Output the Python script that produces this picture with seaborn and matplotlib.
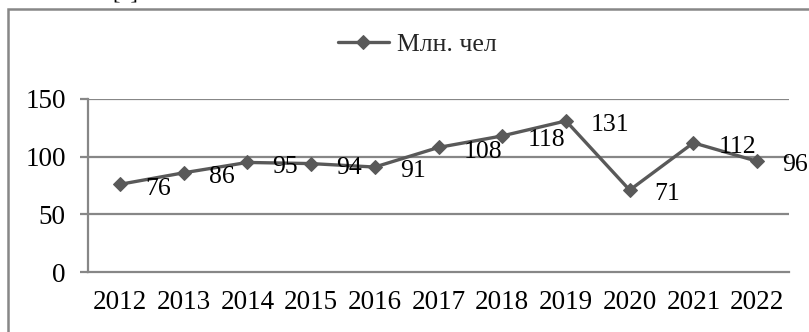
import matplotlib
matplotlib.use("Agg")
import matplotlib.pyplot as plt
from matplotlib.patches import Rectangle
import numpy as np
import pandas as pd
import seaborn as sns

years = ["2012", "2013", "2014", "2015", "2016", "2017", "2018", "2019", "2020", "2021", "2022"]
values = [76, 86, 95, 94, 91, 108, 118, 131, 71, 112, 96]
series_name = "Млн. чел"
y_ticks = [0, 50, 100, 150]

sns.set_theme(style="white")
plt.rcParams["font.family"] = ["Liberation Serif", "DejaVu Serif"]

LINE = "#595959"
GRID = "#878787"

df = pd.DataFrame({"pos": np.arange(len(years)), "value": values, "series": series_name})

fig = plt.figure(figsize=(8.09, 3.32), dpi=100)
fig.patch.set_facecolor("white")
ax = fig.add_axes([88 / 809, 1 - 272 / 332, (789 - 88) / 809, (272 - 99) / 332])

sns.lineplot(data=df, x="pos", y="value", ax=ax, color=LINE, linewidth=2.4,
             marker="D", markersize=7.5, markeredgecolor=LINE, label=series_name)

ax.set_xlim(-0.5, len(years) - 0.5)
ax.set_ylim(0, 150)
ax.set_yticks(y_ticks)
ax.set_xticks(np.arange(len(years)))
ax.set_xticklabels(years)
ax.set_xlabel("")
ax.set_ylabel("")

for v in y_ticks[1:]:
    ax.axhline(v, color=GRID, linewidth=1.6, zorder=0)

for s in ["top", "right"]:
    ax.spines[s].set_visible(False)
for s in ["left", "bottom"]:
    ax.spines[s].set_color(GRID)
    ax.spines[s].set_linewidth(1.6)

ax.tick_params(axis="y", length=6, width=1.6, color=GRID, pad=10, labelsize=19.5, labelcolor="black", left=True)
ax.tick_params(axis="x", length=0, pad=13, labelsize=19.5, labelcolor="black")

for i, v in enumerate(values):
    ax.annotate(str(v), (i, v), xytext=(18, -3), textcoords="offset points",
                ha="left", va="center", fontsize=18.5, color="black")

leg = ax.legend(loc="center", bbox_to_anchor=(417 / 809, 1 - 45 / 332),
                bbox_transform=fig.transFigure, frameon=False, fontsize=18.5,
                handlelength=2.0, handletextpad=0.3)

# outer chart frame
fig.patches.append(Rectangle((8 / 809, -0.2), 1.2, 1.2 - 9 / 332, transform=fig.transFigure,
                             fill=False, edgecolor=GRID, linewidth=1.8))
fig.text(112 / 809, 1.006, "[4]", ha="left", va="baseline", fontsize=16, color="black")

fig.savefig("out.png", dpi=100, facecolor="white")
